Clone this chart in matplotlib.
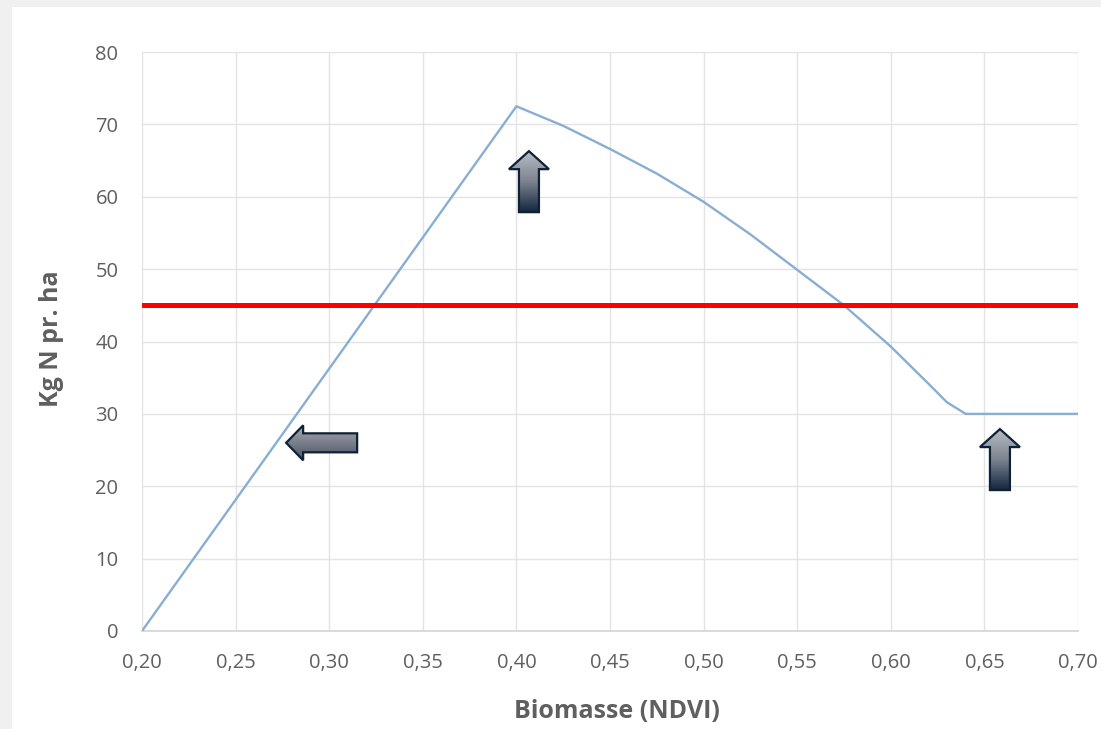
import numpy as np
from matplotlib import pyplot as plt
from matplotlib.patches import Polygon, Rectangle
from matplotlib.colors import LinearSegmentedColormap

# N-rate curve
ndvi   = [0.20, 0.40, 0.425, 0.45, 0.475, 0.50, 0.525, 0.55, 0.575, 0.60, 0.62, 0.63, 0.64, 0.70]
kg_n   = [0.0, 72.5, 69.8, 66.6, 63.2, 59.3, 54.8, 49.9, 45.0, 39.3, 34.2, 31.6, 30.0, 30.0]
flat_n = 45
x_ticks = [0.20, 0.25, 0.30, 0.35, 0.40, 0.45, 0.50, 0.55, 0.60, 0.65, 0.70]
y_ticks = [0, 10, 20, 30, 40, 50, 60, 70, 80]

# arrow tips (data coords) and direction
arrow_tips = [(0.277, 26.0, 'left'), (0.4067, 66.3, 'up'), (0.6583, 27.9, 'up')]

W, H = 1101, 729
fig = plt.figure(figsize=(W/100, H/100), dpi=100)
fig.patch.set_facecolor('#f0f0f0')
fig.patches.append(Rectangle((12/W, 0), 1, 1 - 7/H, transform=fig.transFigure,
                             facecolor='white', edgecolor='none', zorder=-5))

font = ['Open Sans', 'DejaVu Sans']
ax = fig.add_axes([142/W, 1 - 631/H, 936/W, 579/H])
ax.set_facecolor('white')
ax.plot(ndvi, kg_n, color='#89aed4', lw=1.7, zorder=3, solid_joinstyle='round')
ax.plot([x_ticks[0], x_ticks[-1]], [flat_n, flat_n], color='#ff0000', lw=3.6, zorder=4)

ax.set_xlim(0.20, 0.70)
ax.set_ylim(0, 80)
ax.set_xticks(x_ticks)
ax.set_yticks(y_ticks)
ax.set_xticklabels([f'{v:.2f}'.replace('.', ',') for v in x_ticks], family=font,
                   fontsize=14.5, color='#5f5f5f')
ax.set_yticklabels([str(v) for v in y_ticks], family=font, fontsize=14.5, color='#5f5f5f')
ax.tick_params(axis='x', length=0, pad=16)
ax.tick_params(axis='y', length=0, pad=17)
ax.grid(True, color='#e3e3e3', lw=1.0, zorder=0)
ax.set_axisbelow(True)
for s in ['top', 'right', 'left']:
  ax.spines[s].set_visible(False)
ax.spines['bottom'].set_color('#d4d4d4')
ax.spines['bottom'].set_linewidth(1.2)

ax.set_xlabel('Biomasse (NDVI)', family=font, fontsize=18, fontweight='bold',
              color='#5f5f5f', va='center')
ax.set_ylabel('Kg N pr. ha', family=font, fontsize=18, fontweight='bold',
              color='#5f5f5f', va='center', ha='center')
ax.xaxis.set_label_coords(0.507, -(711 - 631) / 579)
ax.yaxis.set_label_coords((52 - 142) / 936, 0.504)

# overlay in pixel units for the block arrows
ov = fig.add_axes([0, 0, 1, 1], zorder=10)
ov.set_xlim(0, W); ov.set_ylim(0, H); ov.axis('off')
ov.patch.set_alpha(0)

def arrow_shape(kind):
  if kind == 'left':
    return [(0, 0), (17, 17.5), (17, 9.5), (71, 9.5), (71, -9.5), (17, -9.5), (17, -17.5)]
  return [(0, 0), (20, -18), (10, -18), (10, -61), (-10, -61), (-10, -18), (-20, -18)]

for x, y, kind in arrow_tips:
  px, py = ax.transData.transform((x, y))
  pts = np.array(arrow_shape(kind)) + [px, py]
  if kind == 'left':
    cmap = LinearSegmentedColormap.from_list('g', ['#a7abb3', '#7a808b', '#4a5261'])
  else:
    cmap = LinearSegmentedColormap.from_list('g', ['#b8bcc3', '#7c838f', '#14273f'])
  poly = Polygon(pts, closed=True, facecolor='none', edgecolor='#0e2136', lw=1.6, zorder=12)
  ov.add_patch(poly)
  x0, x1 = pts[:, 0].min(), pts[:, 0].max()
  y0, y1 = pts[:, 1].min(), pts[:, 1].max()
  grad = np.linspace(0, 1, 100).reshape(-1, 1)
  im = ov.imshow(grad, cmap=cmap, extent=[x0, x1, y0, y1], origin='upper',
                 aspect='auto', zorder=11)
  im.set_clip_path(poly)

ov.set_xlim(0, W); ov.set_ylim(0, H)
fig.savefig('out.png', dpi=100, facecolor=fig.get_facecolor())
